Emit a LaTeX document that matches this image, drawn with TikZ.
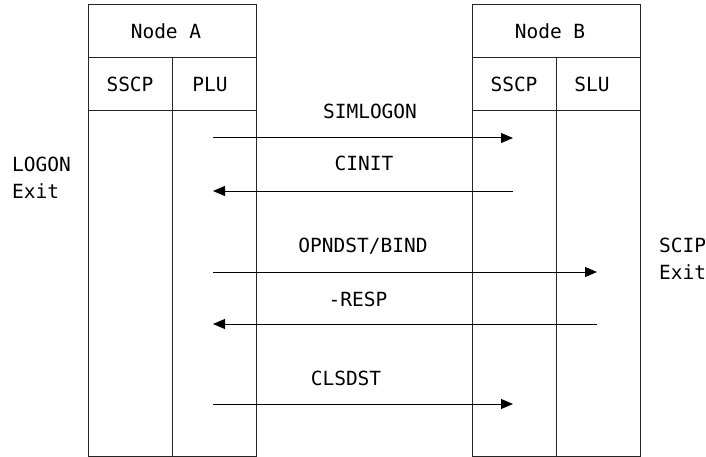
\documentclass[tikz,border=0pt]{standalone}
\usepackage{fontspec}
\setmainfont{DejaVu Sans Mono}
\usetikzlibrary{arrows.meta}
\tikzset{
  lbl/.style={anchor=base, inner sep=0, font=\fontsize{19.5}{27}\selectfont},
  msg/.style={line width=1pt, -{Triangle[length=12pt,width=10pt]}},
  frame/.style={line width=1pt, black!85}
}

\begin{document}
\begin{tikzpicture}[x=1pt,y=-1pt]
\useasboundingbox (0,0) rectangle (706,457);
% the two node tables
\foreach \l/\r in {88/256, 472/640} {
 \draw[frame] (\l,5) rectangle (\r,456);
 \draw[frame] (\l,58) -- (\r,58) (\l,111) -- (\r,111);
 \draw[frame] ({(\l+\r)/2},58) -- ({(\l+\r)/2},456);
}
\node[lbl] (nodeA) at (166,39) {Node A};
\node[lbl] (sscpA) at (130,92) {SSCP};
\node[lbl] (pluA) at (210,92) {PLU};
\node[lbl] (nodeB) at (550,39) {Node B};
\node[lbl] (sscpB) at (514,92) {SSCP};
\node[lbl] (sluB) at (592,92) {SLU};
\node[lbl, anchor=base west, align=left] (logon) at (12,198) {LOGON\\Exit};
\node[lbl, anchor=base west, align=left] (scip) at (659,279) {SCIP\\Exit};
% arrow ends
\coordinate (a1) at (213,138);  \coordinate (b1) at (513,138);
\coordinate (a2) at (213,191);  \coordinate (b2) at (513,191);
\coordinate (a3) at (213,272);  \coordinate (b3) at (597,272);
\coordinate (a4) at (213,324);  \coordinate (b4) at (597,324);
\coordinate (a5) at (213,404);  \coordinate (b5) at (513,404);
% messages
\draw[msg] (a1) -- (b1);
\node[lbl] (simlogon) at (370,119) {SIMLOGON};
\draw[msg] (b2) -- (a2);
\node[lbl] (cinit) at (364,171) {CINIT};
\draw[msg] (a3) -- (b3);
\node[lbl] (opndst) at (363,252) {OPNDST/BIND};
\draw[msg] (b4) -- (a4);
\node[lbl] (resp) at (358,306) {-RESP};
\draw[msg] (a5) -- (b5);
\node[lbl] (clsdst) at (346,385) {CLSDST};
\end{tikzpicture}
\end{document}
